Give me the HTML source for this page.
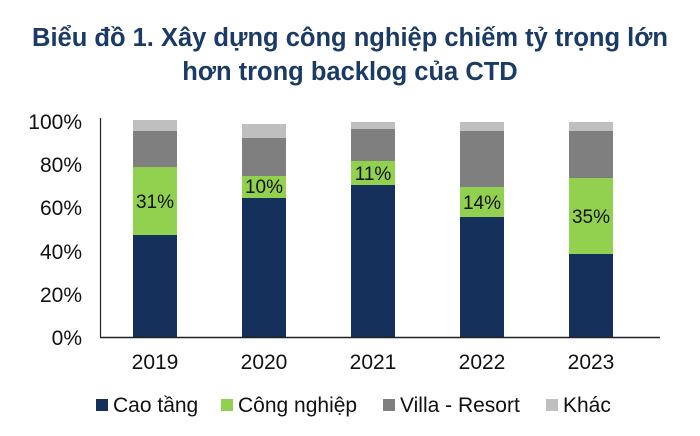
<!DOCTYPE html><html><head><style>body{margin:0;background:#fff}svg{display:block}text{font-family:"Liberation Sans",sans-serif}</style></head><body>
<svg width="700" height="436" viewBox="0 0 700 436">
<text x="350" y="46" text-anchor="middle" font-size="25.5" font-weight="bold" fill="#1b3a66">Biểu đồ 1. Xây dựng công nghiệp chiếm tỷ trọng lớn</text>
<text x="350" y="80" text-anchor="middle" font-size="25.5" font-weight="bold" fill="#1b3a66">hơn trong backlog của CTD</text>
<g font-size="21" fill="#111" text-anchor="end">
<text x="82" y="129">100%</text><text x="82" y="172">80%</text><text x="82" y="215">60%</text><text x="82" y="259">40%</text><text x="82" y="302">20%</text><text x="82" y="345">0%</text></g>
<g>
<rect x="133" y="120" width="44" height="11" fill="#bfbfbf"/><rect x="133" y="131" width="44" height="36" fill="#7f7f7f"/><rect x="133" y="167" width="44" height="68" fill="#92d050"/><rect x="133" y="235" width="44" height="102" fill="#15305a"/>
<rect x="242" y="124" width="44" height="14" fill="#bfbfbf"/><rect x="242" y="138" width="44" height="38" fill="#7f7f7f"/><rect x="242" y="176" width="44" height="22" fill="#92d050"/><rect x="242" y="198" width="44" height="139" fill="#15305a"/>
<rect x="351" y="122" width="44" height="7" fill="#bfbfbf"/><rect x="351" y="129" width="44" height="32" fill="#7f7f7f"/><rect x="351" y="161" width="44" height="24" fill="#92d050"/><rect x="351" y="185" width="44" height="152" fill="#15305a"/>
<rect x="460" y="122" width="44" height="9" fill="#bfbfbf"/><rect x="460" y="131" width="44" height="56" fill="#7f7f7f"/><rect x="460" y="187" width="44" height="30" fill="#92d050"/><rect x="460" y="217" width="44" height="120" fill="#15305a"/>
<rect x="569" y="122" width="44" height="9" fill="#bfbfbf"/><rect x="569" y="131" width="44" height="47" fill="#7f7f7f"/><rect x="569" y="178" width="44" height="76" fill="#92d050"/><rect x="569" y="254" width="44" height="83" fill="#15305a"/>
</g>
<g font-size="19" fill="#111" text-anchor="middle">
<text x="155" y="208">31%</text><text x="264" y="193">10%</text><text x="373" y="180">11%</text><text x="482" y="209">14%</text><text x="591" y="223">35%</text></g>
<line x1="100.5" y1="118" x2="100.5" y2="337" stroke="#222" stroke-width="1.2"/>
<line x1="100" y1="337.5" x2="660" y2="337.5" stroke="#222" stroke-width="1.5"/>
<g font-size="21" fill="#111" text-anchor="middle">
<text x="155" y="369">2019</text><text x="264" y="369">2020</text><text x="373" y="369">2021</text><text x="482" y="369">2022</text><text x="591" y="369">2023</text></g>
<g font-size="21" fill="#111">
<rect x="96" y="399" width="12" height="12" fill="#15305a"/><text x="113" y="412">Cao tầng</text>
<rect x="221" y="399" width="12" height="12" fill="#92d050"/><text x="238" y="412">Công nghiệp</text>
<rect x="383" y="399" width="12" height="12" fill="#7f7f7f"/><text x="400" y="412">Villa - Resort</text>
<rect x="546" y="399" width="12" height="12" fill="#bfbfbf"/><text x="563" y="412">Khác</text>
</g>
</svg></body></html>
